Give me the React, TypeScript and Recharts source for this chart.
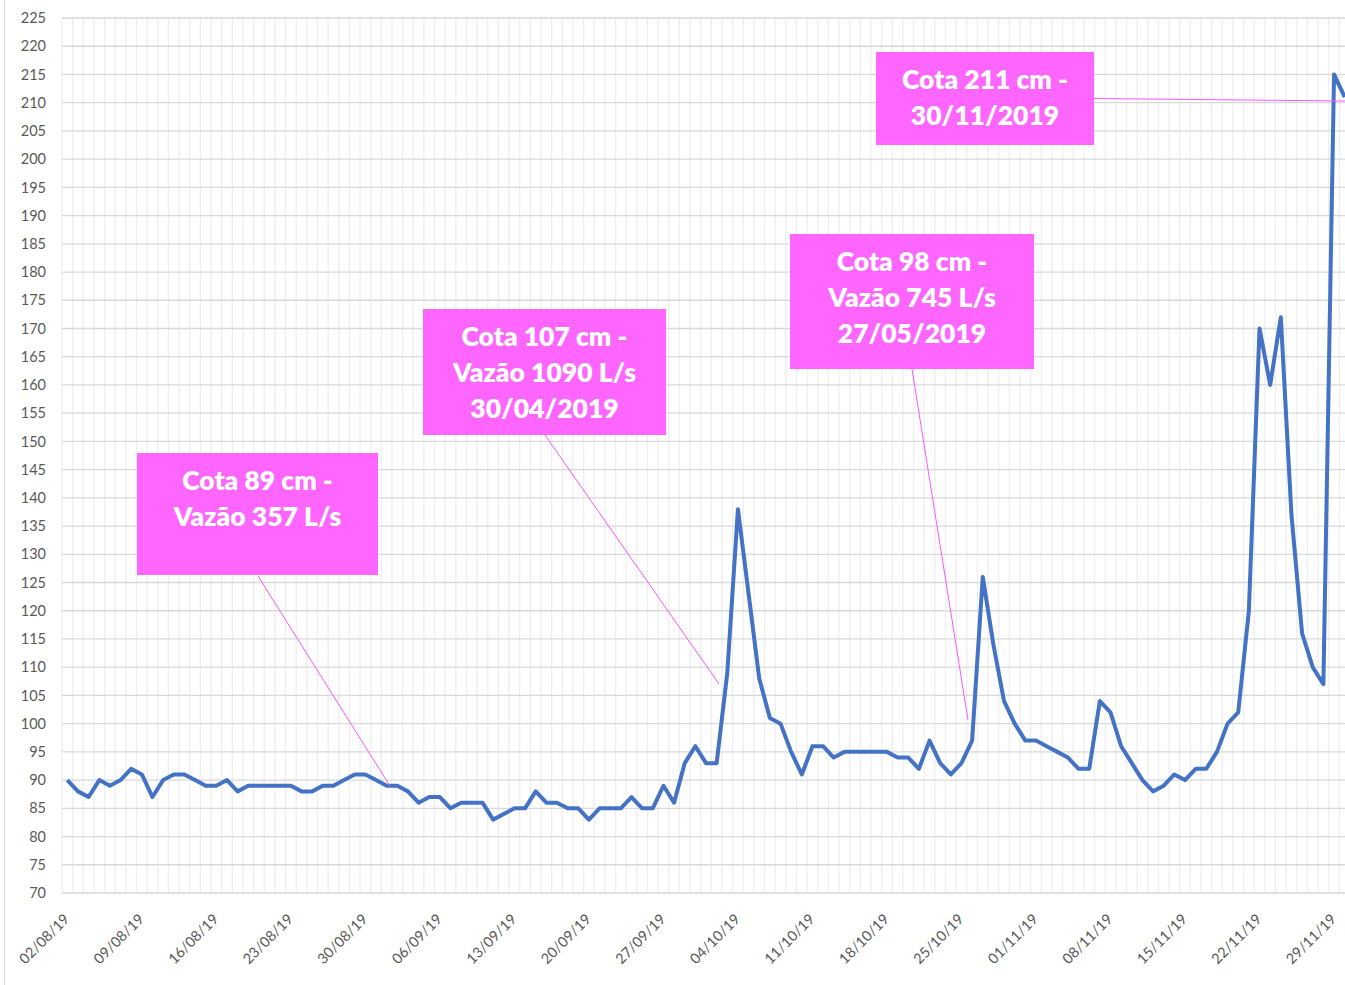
import { LineChart, Line, XAxis, YAxis, CartesianGrid } from 'recharts';

// daily water level (cota, cm) from 02/08/19 to 30/11/19
const cota = [
  90, 88, 87, 90, 89, 90, 92, 91, 87, 90,
  91, 91, 90, 89, 89, 90, 88, 89, 89, 89,
  89, 89, 88, 88, 89, 89, 90, 91, 91, 90,
  89, 89, 88, 86, 87, 87, 85, 86, 86, 86,
  83, 84, 85, 85, 88, 86, 86, 85, 85, 83,
  85, 85, 85, 87, 85, 85, 89, 86, 93, 96,
  93, 93, 109, 138, 123, 108, 101, 100, 95, 91,
  96, 96, 94, 95, 95, 95, 95, 95, 94, 94,
  92, 97, 93, 91, 93, 97, 126, 114, 104, 100,
  97, 97, 96, 95, 94, 92, 92, 104, 102, 96,
  93, 90, 88, 89, 91, 90, 92, 92, 95, 100,
  102, 120, 170, 160, 172, 137, 116, 110, 107, 215,
  211,
];

const tickDays = [0, 7, 14, 21, 28, 35, 42, 49, 56, 63, 70, 77, 84, 91, 98, 105, 112, 119];
const tickLabels = [
  '02/08/19', '09/08/19', '16/08/19', '23/08/19', '30/08/19', '06/09/19',
  '13/09/19', '20/09/19', '27/09/19', '04/10/19', '11/10/19', '18/10/19',
  '25/10/19', '01/11/19', '08/11/19', '15/11/19', '22/11/19', '29/11/19',
];

const yTicks = [
  70, 75, 80, 85, 90, 95, 100, 105, 110, 115, 120, 125, 130, 135, 140, 145,
  150, 155, 160, 165, 170, 175, 180, 185, 190, 195, 200, 205, 210, 215, 220, 225,
];

const data = cota.map((v, i) => ({ day: i, cota: v }));

// callout boxes and their leader lines (page pixels)
const notes = [
  { lines: ['Cota 89 cm -', 'Vazão 357 L/s'], box: [137, 453, 241, 122], leader: [258, 576, 390, 786] },
  { lines: ['Cota 107 cm -', 'Vazão 1090 L/s', '30/04/2019'], box: [423, 309, 243, 126], leader: [545, 435, 719, 684] },
  { lines: ['Cota 98 cm -', 'Vazão 745 L/s', '27/05/2019'], box: [790, 234, 244, 135], leader: [912, 369, 968, 720] },
  { lines: ['Cota 211 cm -', '30/11/2019'], box: [876, 52, 218, 93], leader: [1094, 98.5, 1345, 101] },
];

const FONT = 'Lato, "Noto Sans", sans-serif';
const DAYS = cota.length;

function DateTick(props: any) {
  const { x, y, payload } = props;
  const k = tickDays.indexOf(payload.value);
  return (
    <text
      x={x + 3}
      y={y + 27}
      transform={`rotate(-45, ${x + 3}, ${y + 27})`}
      textAnchor="end"
      fill="#595959"
      fontSize={14.5}
      fontFamily={FONT}
    >
      {tickLabels[k]}
    </text>
  );
}

export default function App() {
  return (
    <div style={{ position: 'absolute', left: 0, top: 0, width: 1345, height: 985, overflow: 'hidden', background: '#fff' }}>
      <div style={{ position: 'absolute', left: 4, top: 0, width: 1, height: 985, background: '#D9D9D9' }} />
      <LineChart width={1350} height={985} data={data} margin={{ top: 18, right: 0, bottom: 0, left: 0 }}>
        <CartesianGrid
          horizontal={false}
          stroke="#EEEEEE"
          strokeWidth={1.3}
          verticalCoordinatesGenerator={({ offset }: any) =>
            Array.from({ length: DAYS + 1 }, (_, k) => offset.left + (k * offset.width) / DAYS)
          }
        />
        <CartesianGrid vertical={false} stroke="#D9D9D9" strokeWidth={1.3} />
        <XAxis
          type="number"
          dataKey="day"
          domain={[-0.5, DAYS - 0.5]}
          ticks={tickDays}
          interval={0}
          height={92}
          axisLine={false}
          tickLine={false}
          tickSize={0}
          tickMargin={0}
          tick={<DateTick />}
        />
        <YAxis
          domain={[70, 225]}
          ticks={yTicks}
          interval={0}
          width={62}
          axisLine={false}
          tickLine={false}
          tickSize={0}
          tickMargin={16}
          tick={{ fill: '#595959', fontSize: 14.5, fontFamily: FONT }}
        />
        <Line
          type="linear"
          dataKey="cota"
          stroke="#4472C4"
          strokeWidth={4}
          strokeLinejoin="round"
          dot={false}
          isAnimationActive={false}
        />
      </LineChart>
      <svg width={1345} height={985} style={{ position: 'absolute', left: 0, top: 0, pointerEvents: 'none' }}>
        {notes.map((n, i) => (
          <line key={i} x1={n.leader[0]} y1={n.leader[1]} x2={n.leader[2]} y2={n.leader[3]} stroke="#FF55FF" strokeWidth={1} />
        ))}
      </svg>
      {notes.map((n, i) => (
        <div
          key={i}
          style={{
            position: 'absolute',
            left: n.box[0],
            top: n.box[1],
            width: n.box[2],
            height: n.box[3],
            background: '#FF66FF',
            color: '#fff',
            fontFamily: FONT,
            fontWeight: 800,
            fontSize: 26.5,
            lineHeight: '36px',
            textAlign: 'center',
            paddingTop: 9,
            boxSizing: 'border-box',
            whiteSpace: 'nowrap',
          }}
        >
          {n.lines.map((l, j) => (
            <div key={j}>{l}</div>
          ))}
        </div>
      ))}
    </div>
  );
}
